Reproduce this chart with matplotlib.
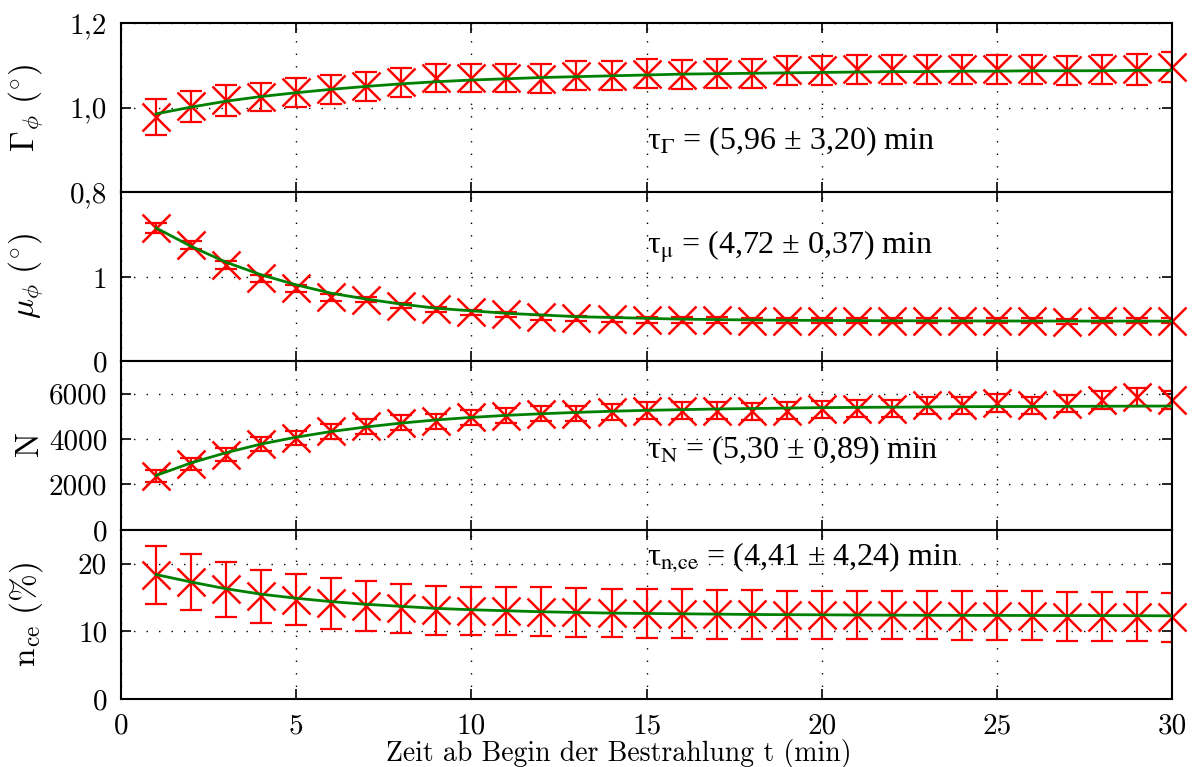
import matplotlib
matplotlib.use("Agg")
import matplotlib.pyplot as plt
from matplotlib.ticker import FuncFormatter

plt.rcParams["font.family"] = "cmr10"
plt.rcParams["mathtext.fontset"] = "cm"
plt.rcParams["axes.unicode_minus"] = False

t = list(range(1, 31))

# Gamma_phi (deg)
gamma = [0.977, 1.003, 1.017, 1.025, 1.036, 1.043, 1.050, 1.060, 1.070, 1.070,
         1.070, 1.068, 1.075, 1.075, 1.080, 1.078, 1.080, 1.080, 1.088, 1.088,
         1.090, 1.090, 1.090, 1.090, 1.090, 1.090, 1.088, 1.090, 1.090, 1.096]
gamma_err = [0.042, 0.037, 0.036, 0.034, 0.034, 0.034, 0.034, 0.034, 0.034, 0.034,
             0.034, 0.034, 0.034, 0.034, 0.034, 0.034, 0.034, 0.034, 0.035, 0.035,
             0.035, 0.035, 0.035, 0.035, 0.035, 0.035, 0.035, 0.035, 0.036, 0.036]
gamma_fit = [0.985, 1.001, 1.015, 1.026, 1.035, 1.043, 1.050, 1.056, 1.061, 1.065,
             1.068, 1.071, 1.073, 1.075, 1.077, 1.079, 1.080, 1.081, 1.082, 1.083,
             1.084, 1.085, 1.085, 1.086, 1.086, 1.087, 1.087, 1.087, 1.088, 1.088]

# mu_phi (deg)
mu = [1.59, 1.39, 1.15, 0.99, 0.87, 0.76, 0.73, 0.66, 0.62, 0.58,
      0.56, 0.52, 0.51, 0.50, 0.49, 0.49, 0.49, 0.48, 0.48, 0.48,
      0.48, 0.48, 0.48, 0.48, 0.48, 0.48, 0.47, 0.48, 0.48, 0.48]
mu_err = [0.06, 0.05, 0.05, 0.04, 0.04, 0.04, 0.03, 0.03, 0.03, 0.03,
          0.03, 0.03, 0.03, 0.03, 0.03, 0.03, 0.03, 0.03, 0.03, 0.03,
          0.03, 0.03, 0.03, 0.03, 0.03, 0.03, 0.03, 0.03, 0.03, 0.03]
mu_fit = [1.59, 1.37, 1.18, 1.03, 0.91, 0.81, 0.74, 0.68, 0.63, 0.60,
          0.57, 0.55, 0.53, 0.52, 0.51, 0.50, 0.495, 0.49, 0.487, 0.485,
          0.483, 0.481, 0.480, 0.479, 0.478, 0.478, 0.477, 0.477, 0.477, 0.476]

# N
n_count = [2390, 2900, 3310, 3780, 4045, 4330, 4550, 4720, 4770, 4950,
           5030, 5120, 5120, 5170, 5250, 5250, 5250, 5210, 5250, 5300,
           5340, 5340, 5475, 5475, 5580, 5475, 5550, 5700, 5840, 5725]
n_count_err = [260, 270, 280, 290, 300, 310, 320, 330, 330, 340,
               340, 350, 350, 350, 360, 360, 360, 360, 360, 370,
               370, 370, 370, 380, 380, 380, 380, 390, 400, 400]
n_count_fit = [2400, 2950, 3400, 3780, 4080, 4330, 4530, 4700, 4840, 4950,
               5040, 5110, 5170, 5220, 5260, 5290, 5320, 5340, 5360, 5380,
               5390, 5400, 5410, 5420, 5425, 5430, 5435, 5440, 5445, 5450]

# n_ce (%)
n_ce = [18.4, 17.3, 16.2, 15.2, 14.7, 14.15, 13.76, 13.4, 13.1, 13.0,
        13.0, 12.9, 12.8, 12.7, 12.6, 12.6, 12.5, 12.5, 12.4, 12.4,
        12.4, 12.4, 12.4, 12.3, 12.3, 12.3, 12.2, 12.2, 12.2, 12.1]
n_ce_err = [4.3, 4.2, 4.0, 3.9, 3.8, 3.8, 3.7, 3.6, 3.6, 3.6,
            3.6, 3.6, 3.6, 3.6, 3.6, 3.6, 3.6, 3.6, 3.6, 3.6,
            3.6, 3.6, 3.6, 3.6, 3.6, 3.6, 3.6, 3.6, 3.6, 3.6]
n_ce_fit = [18.4, 17.3, 16.3, 15.5, 14.9, 14.4, 14.0, 13.7, 13.4, 13.2,
            13.05, 12.9, 12.8, 12.7, 12.65, 12.6, 12.55, 12.5, 12.47, 12.45,
            12.42, 12.4, 12.38, 12.37, 12.36, 12.35, 12.34, 12.33, 12.32, 12.3]

panels = [
    (gamma, gamma_err, gamma_fit, r"$\Gamma_{\phi}\ (^{\circ})$", (0.8, 1.2), [0.8, 1.0, 1.2], "%.1f",
     0.902, r"τ$_{\mathrm{\Gamma}}$ = (5,96 ± 3,20) min"),
    (mu, mu_err, mu_fit, r"$\mu_{\phi}\ (^{\circ})$", (0, 2.02), [0, 1], "%.0f",
     1.286, r"τ$_{\mathrm{\mu}}$ = (4,72 ± 0,37) min"),
    (n_count, n_count_err, n_count_fit, r"$\mathrm{N}$", (0, 7430), [0, 2000, 4000, 6000], "%.0f",
     3135, r"τ$_{\mathrm{N}}$ = (5,30 ± 0,89) min"),
    (n_ce, n_ce_err, n_ce_fit, r"$\mathrm{n_{ce}}\ (\%)$", (0, 25), [0, 10, 20], "%.0f",
     19.9, r"τ$_{\mathrm{n{,}ce}}$ = (4,41 ± 4,24) min"),
]

fig, axes = plt.subplots(4, 1, sharex=True, figsize=(11.99, 7.67), dpi=100)
fig.subplots_adjust(left=0.101, right=0.9775, top=0.970, bottom=0.0887, hspace=0)

for ax, (y, err, fit, label, ylim, yticks, fmt, ty, txt) in zip(axes, panels):
    ax.errorbar(t, y, yerr=err, fmt="none", ecolor="red", elinewidth=1.6,
                capsize=8, capthick=1.6, zorder=2)
    ax.plot(t, y, "x", color="red", ms=20, mew=1.8, clip_on=False, zorder=2)
    ax.plot(t, fit, color="#008000", lw=2, zorder=3)
    ax.set_ylim(*ylim)
    ax.set_yticks(yticks)
    ax.yaxis.set_major_formatter(FuncFormatter(lambda v, p, f=fmt: (f % v).replace(".", ",")))
    ax.set_ylabel(label, fontsize=24)
    ax.yaxis.set_label_coords(-0.072, 0.5)
    ax.grid(True, color="black", linestyle=(0, (1, 8)), linewidth=1)
    ax.tick_params(direction="in", top=True, right=True, length=7, width=1.2,
                   labelsize=21, pad=10)
    for s in ax.spines.values():
        s.set_linewidth(1.5)
    ax.text(15, ty, txt, fontsize=23, family=["Liberation Serif"],
            math_fontfamily="stix", va="baseline", ha="left", zorder=4)

axes[-1].set_xlim(0, 30)
axes[-1].set_xticks(range(0, 31, 5))
axes[-1].xaxis.set_major_formatter(FuncFormatter(lambda v, p: "%d" % v))
axes[-1].set_xlabel("Zeit ab Begin der Bestrahlung t (min)", fontsize=20)
axes[-1].xaxis.set_label_coords(0.474, -0.235)

fig.savefig("out.png", dpi=100)
